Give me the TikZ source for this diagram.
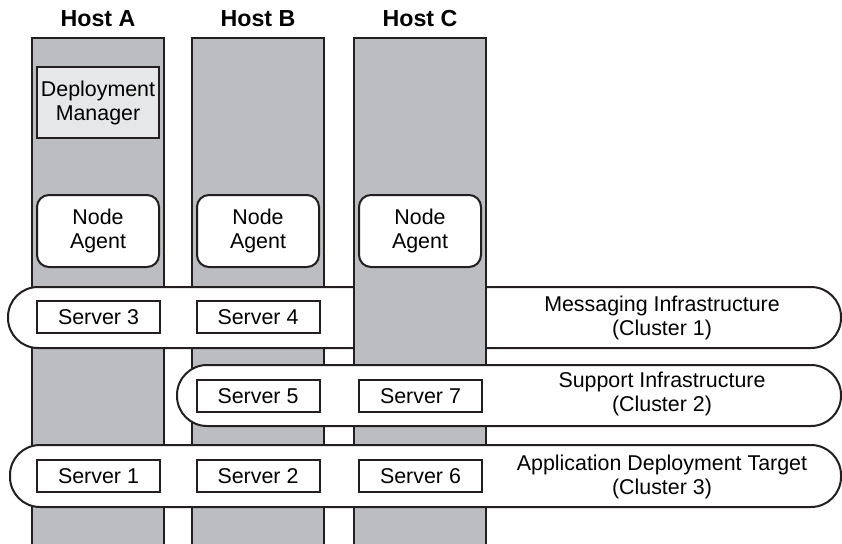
\documentclass[tikz,border=0pt]{standalone}
\usepackage{fontspec}
\setmainfont{Liberation Sans}
\usetikzlibrary{positioning}
\definecolor{hostgray}{RGB}{188,189,192}
\definecolor{mgrgray}{RGB}{230,231,232}
\definecolor{edgegray}{RGB}{35,31,32}
\tikzset{
	host/.style={fill=hostgray, draw=edgegray, line width=1pt},
	hostlabel/.style={font=\fontsize{11.6}{13}\selectfont\bfseries},
	manager/.style={draw=edgegray, fill=mgrgray, line width=1pt, minimum width=61pt, minimum height=35.5pt, align=center, inner sep=0pt},
	agent/.style={draw=edgegray, fill=white, line width=1pt, rounded corners=6pt, minimum width=61pt, minimum height=36pt, align=center, inner sep=0pt},
	server/.style={draw=edgegray, fill=white, line width=1pt, minimum width=61.5pt, minimum height=16pt, inner sep=0pt},
	cluster/.style={draw=edgegray, fill=white, line width=1pt, rounded corners=15pt},
	clusterlabel/.style={align=center}
}

\begin{document}
\begin{tikzpicture}[x=0.5pt, y=-0.5pt, font=\fontsize{10.7}{12}\selectfont]
	\useasboundingbox (0,0) rectangle (842,543);
	% Hosts A and B
	\foreach \x/\h in {32/A, 192/B} {
			\filldraw[host] (\x,560) -- (\x,38) -- (\x+132,38) -- (\x+132,560);
			\node[hostlabel] (host\h) at (\x+66,19) {Host \h};
		}
	% Cluster 1 (behind Host C)
	\draw[cluster] (8,287) rectangle (841,348);
	% Host C
	\filldraw[host] (354,560) -- (354,38) -- (486,38) -- (486,560);
	\node[hostlabel] (hostC) at (420,19) {Host C};
	% Clusters 2 and 3
	\draw[cluster] (177,365) rectangle (841,426);
	\draw[cluster] (10,445) rectangle (841,507);
	% Deployment Manager
	\node[manager] (dmgr) at (98,102.5) {Deployment\\Manager};
	% Node Agents
	\foreach \x/\h in {98/A, 258/B, 420/C} {
			\node[agent] (agent\h) at (\x,231) {Node\\Agent};
		}
	% Servers
	\node[server] (srv3) at (98.5,317) {Server 3};
	\node[server] (srv4) at (258,317) {Server 4};
	\node[server] (srv5) at (258,396) {Server 5};
	\node[server] (srv7) at (420.5,396) {Server 7};
	\node[server] (srv1) at (98.5,476) {Server 1};
	\node[server] (srv2) at (258,476) {Server 2};
	\node[server] (srv6) at (420.5,476) {Server 6};
	% Cluster labels
	\node[clusterlabel] (clu1) at (662,317.5) {Messaging Infrastructure\\(Cluster 1)};
	\node[clusterlabel] (clu2) at (662,394) {Support Infrastructure\\(Cluster 2)};
	\node[clusterlabel] (clu3) at (662,477) {Application Deployment Target\\(Cluster 3)};
\end{tikzpicture}
\end{document}
